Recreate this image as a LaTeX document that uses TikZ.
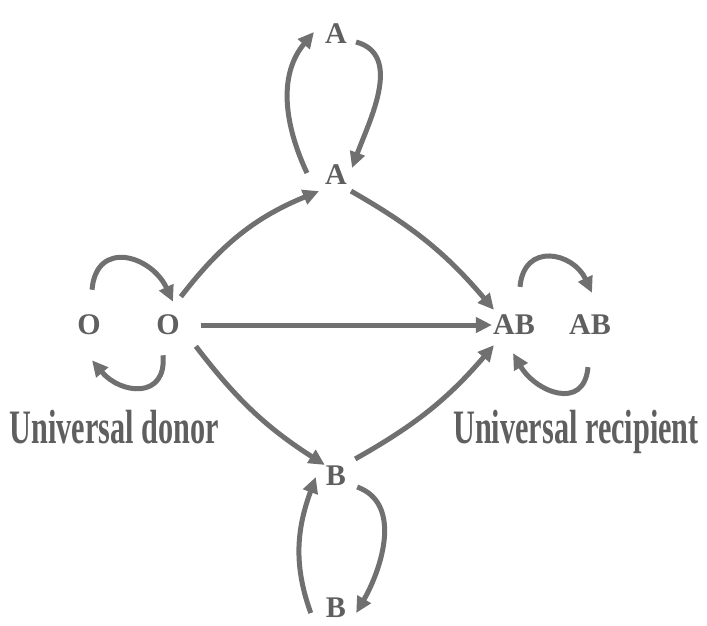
\documentclass[tikz,border=0pt]{standalone}
\usepackage{fontspec}
\setmainfont{Liberation Serif}
\newfontfamily\narrowfont[FakeStretch=0.63]{Liberation Serif}
\usetikzlibrary{arrows.meta}
\definecolor{inkgray}{RGB}{112,112,112}
\definecolor{textgray}{RGB}{95,95,95}
\begin{document}
\begin{tikzpicture}[x=1pt, y=1pt,
  blood/.style={inner sep=1pt, text=textgray, font=\fontsize{30}{32}\selectfont\bfseries},
  caption/.style={inner sep=0pt, anchor=base, text=textgray, font=\fontsize{48}{50}\selectfont\narrowfont\bfseries},
  link/.style={draw=inkgray, line width=5pt, -{Triangle[length=16pt, width=15pt]}}]
  \useasboundingbox (0,0) rectangle (707,-626);
  \node[blood] (at) at (336,-34) {A};
  \node[blood] (am) at (336,-175) {A};
  \node[blood] (ol) at (89,-325) {O};
  \node[blood] (o) at (168,-325) {O};
  \node[blood] (ab) at (514,-325) {AB};
  \node[blood] (abr) at (590,-325) {AB};
  \node[blood] (b) at (336,-476) {B};
  \node[blood] (bb) at (336,-608) {B};
  \node[caption] (donor) at (114,-443) {Universal donor};
  \node[caption] (recip) at (576,-443) {Universal recipient};
  % transfusions between groups
  \draw[link] ([shift={(0,17)}]o.north east) to[bend left=15] ([shift={(-5,-5)}]am.south west);
  \draw[link] ([shift={(3,-5)}]am.south east) to[bend left=10] ([shift={(2,4)}]ab.north west);
  \draw[link, shorten <=20pt] (o.east) -- (ab.west);
  \draw[link] ([shift={(15,-10)}]o.south east) to[bend right=10] (b.north west);
  \draw[link] ([shift={(8,6)}]b.north east) to[bend right=10] ([shift={(2,-9)}]ab.south west);
  % same group loops
  \draw[link] ([shift={(-17,2)}]am.west) to[out=115, in=230] ([shift={(-10,2)}]at.west);
  \draw[link] ([shift={(8,-8)}]at.east) to[out=-15, in=70] ([shift={(4,7)}]am.east);
  \draw[link] ([shift={(3,24)}]ol.north) to[out=85, in=115, looseness=1.6] ([shift={(5,12)}]o.north);
  \draw[link] ([shift={(-5,-19)}]o.south) to[out=-85, in=-50, looseness=1.6] ([shift={(3,-24)}]ol.south);
  \draw[link] ([shift={(6,27)}]ab.north) to[out=85, in=115, looseness=1.6] ([shift={(2,21)}]abr.north);
  \draw[link] ([shift={(-2,-31)}]abr.south) to[out=-95, in=-60, looseness=1.5] ([shift={(-1,-17)}]ab.south);
  \draw[link] ([shift={(-14,-5)}]bb.west) to[out=110, in=250] ([shift={(-9,-1)}]b.west);
  \draw[link] ([shift={(10,-11)}]b.east) to[out=-20, in=60] ([shift={(9,-5)}]bb.east);
\end{tikzpicture}
\end{document}
